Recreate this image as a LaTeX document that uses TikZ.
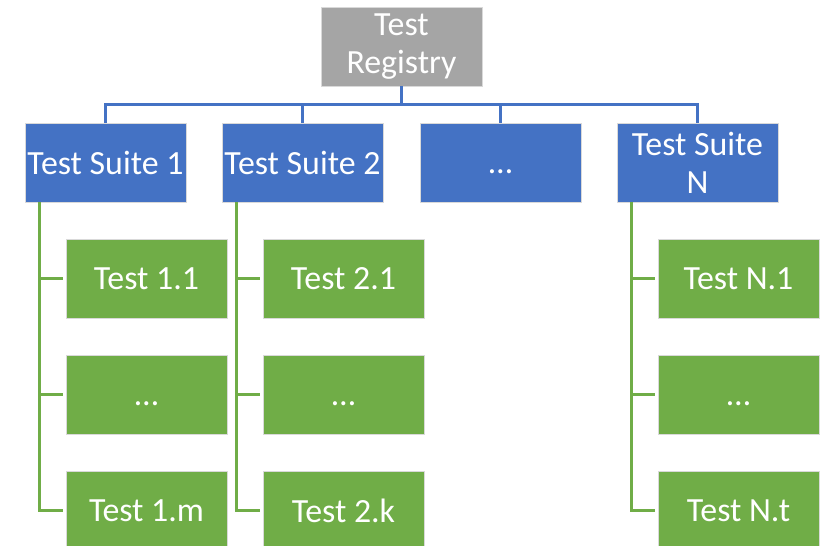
\documentclass[tikz,border=0pt]{standalone}
\usepackage{fontspec}
\setmainfont{Carlito}
\definecolor{regGray}{HTML}{A5A5A5}
\definecolor{suiteBlue}{HTML}{4472C4}
\definecolor{testGreen}{HTML}{70AD47}
\begin{document}
\begin{tikzpicture}[x=1bp,y=-1bp,
		box/.style={draw=white!85!black,line width=0.6pt,text=white,minimum width=161bp,minimum height=79bp,inner sep=0pt,align=center,font=\fontsize{34}{38}\selectfont},
		reg/.style={box,fill=regGray},
		suite/.style={box,fill=suiteBlue},
		test/.style={box,fill=testGreen},
		bus/.style={suiteBlue,line width=2.6pt},
		leg/.style={testGreen,line width=2.6pt}]
	\useasboundingbox (0,0) rectangle (828,546);
	% registry and suites
	\node[reg] (reg) at (401.5,46.5) {Test\\Registry};
	\node[suite] (s1) at (105.5,162.5) {Test Suite 1};
	\node[suite] (s2) at (302.5,162.5) {Test Suite 2};
	\node[suite] (sdots) at (500.5,162.5) {\vphantom{T}…};
	\node[suite] (sN) at (697.5,162.5) {Test Suite\\N};
	\foreach \s in {s1,s2,sdots,sN}
		\draw[bus] (reg.south) -- ++(0,18) -| (\s.north);
	% tests
	\node[test] (t11) at (146.5,278.5) {Test 1.1};
	\node[test] (t1dots) at (146.5,394.5) {\vphantom{T}…};
	\node[test] (t1m) at (146.5,510.5) {Test 1.m};
	\node[test] (t21) at (343.5,278.5) {Test 2.1};
	\node[test] (t2dots) at (343.5,394.5) {\vphantom{T}…};
	\node[test] (t2k) at (343.5,510.5) {Test 2.k};
	\node[test] (tN1) at (738.5,278.5) {Test N.1};
	\node[test] (tNdots) at (738.5,394.5) {\vphantom{T}…};
	\node[test] (tNt) at (738.5,510.5) {Test N.t};
	\foreach \s/\a/\b/\c in {s1/t11/t1dots/t1m,s2/t21/t2dots/t2k,sN/tN1/tNdots/tNt}{
		\draw[leg] ([xshift=15bp]\s.south west) |- ([xshift=-3bp]\c.west);
		\draw[leg] ([xshift=15bp]\s.south west |- \a.west) -- ([xshift=-3bp]\a.west);
		\draw[leg] ([xshift=15bp]\s.south west |- \b.west) -- ([xshift=-3bp]\b.west);
	}
\end{tikzpicture}
\end{document}
